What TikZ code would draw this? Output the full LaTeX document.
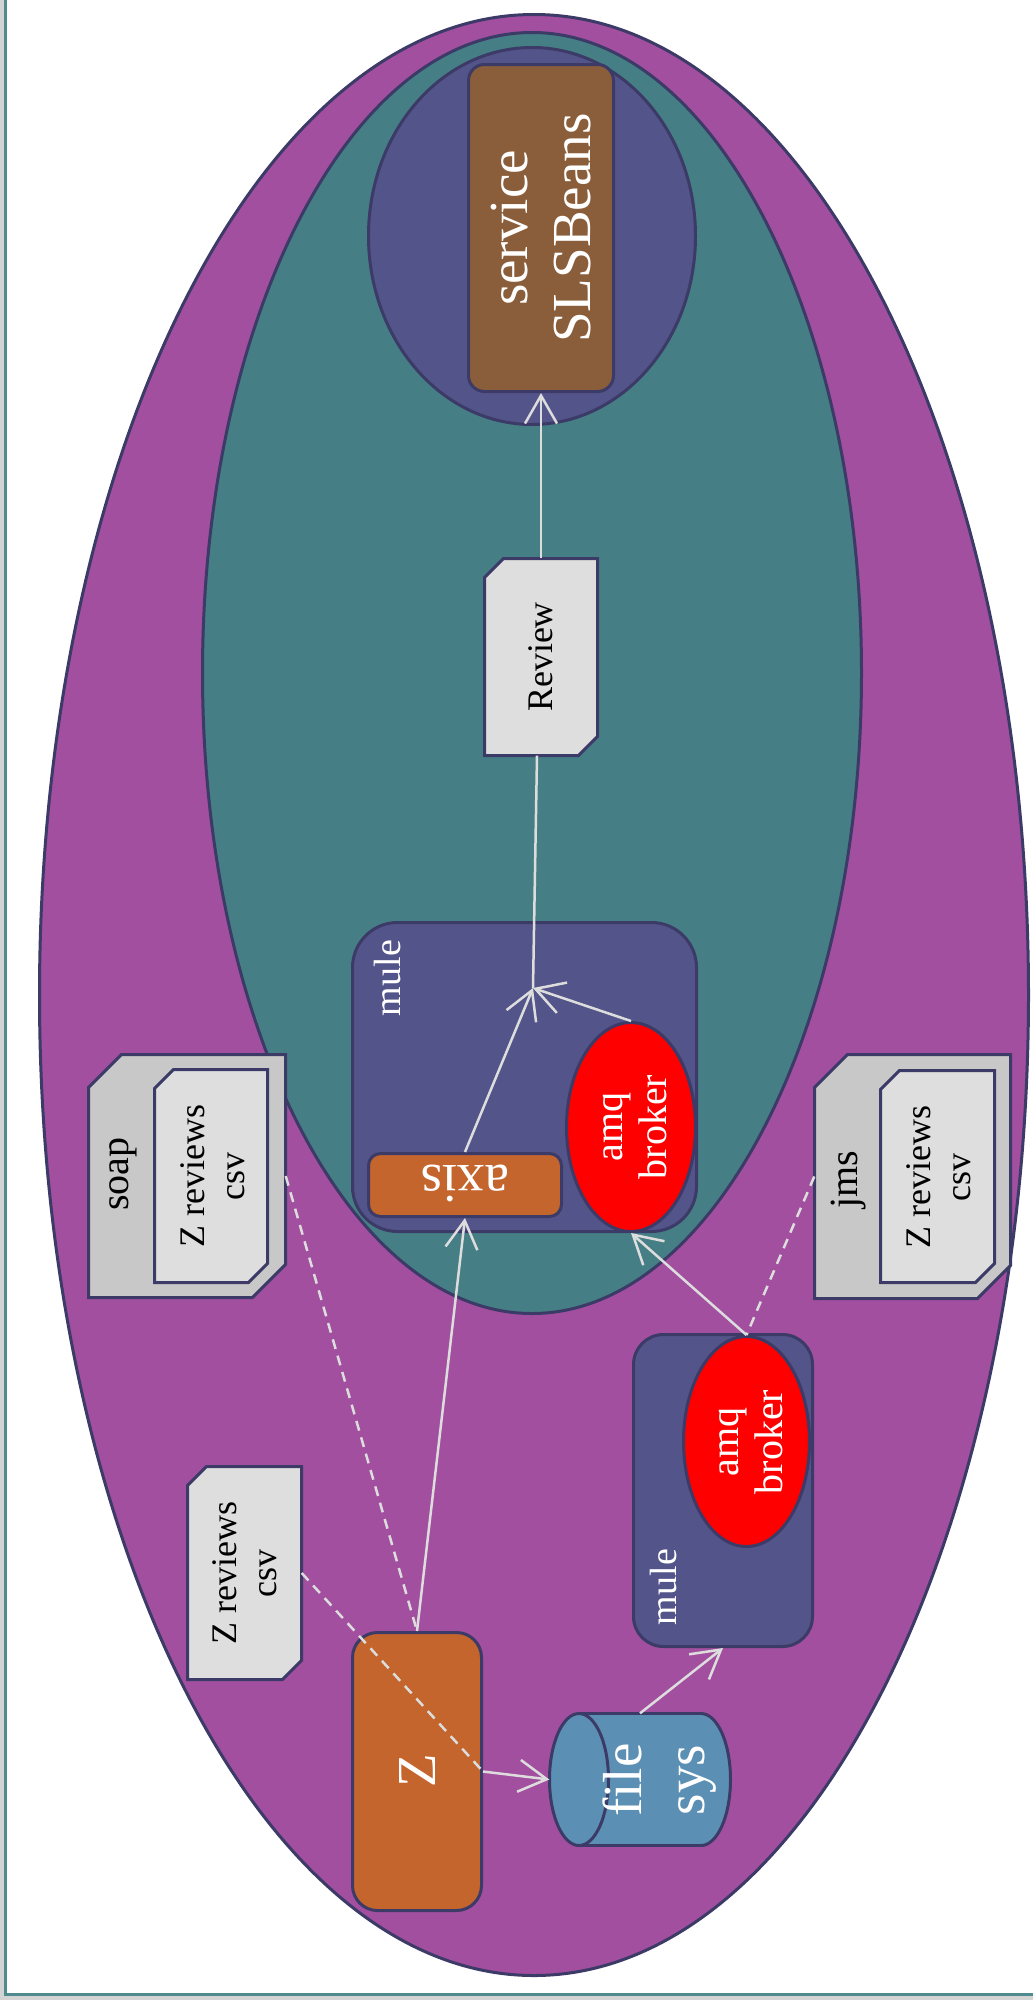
\documentclass[tikz,border=0pt]{standalone}
\usepackage{fontspec}
\setmainfont{Liberation Serif}
\usetikzlibrary{shapes.geometric, arrows.meta, fit}

\definecolor{outerpurple}{HTML}{A24FA0}
\definecolor{tealfill}{HTML}{457F85}
\definecolor{slate}{HTML}{535489}
\definecolor{brownbox}{HTML}{8B5E3B}
\definecolor{orangebox}{HTML}{C4652D}
\definecolor{fsblue}{HTML}{5B8FB4}
\definecolor{notelight}{HTML}{DEDEDE}
\definecolor{notegray}{HTML}{C8C8C8}
\definecolor{border}{HTML}{3C3A66}
\definecolor{wire}{HTML}{DDDDDD}
\definecolor{frameteal}{HTML}{4E8A8E}
\definecolor{framegray}{HTML}{D3D3D3}

% note shape with two chamfered corners (top left, bottom right), plus a
% named invisible node covering it for connector anchors
\newcommand\notebox[7]{%
  \draw[outline, fill=#7] (#2,#3+#6) -- (#2+#6,#3) -- (#4,#3) -- (#4,#5-#6)
    -- (#4-#6,#5) -- (#2,#5) -- cycle;
  \node[fit={(#2,#3) (#4,#5)}, inner sep=0pt] (#1) {};
}

\begin{document}
\begin{tikzpicture}[x=1pt, y=-1pt,
  outline/.style={draw=border, line width=3pt},
  boxfit/.style={outline, inner sep=0pt},
  oval/.style={ellipse, outline, inner sep=0pt},
  lbl/.style={align=center, inner sep=0pt, rotate=90},
  bigtxt/.style={font=\fontsize{55}{63}\selectfont},
  midtxt/.style={font=\fontsize{40}{44}\selectfont},
  smalltxt/.style={font=\fontsize{36}{40}\selectfont},
  flow/.style={draw=wire, line width=2.5pt, -{Straight Barb[length=28pt, width=32pt]}},
  plainwire/.style={draw=wire, line width=2.5pt},
  dashwire/.style={draw=wire, line width=2.5pt, dash pattern=on 10pt off 7pt}]

\useasboundingbox (0,0) rectangle (1033,2000);
\fill[white] (0,0) rectangle (1033,2000);

% page edge
\fill[framegray] (0,0) rectangle (3.5,2000);
\fill[framegray] (0,1996) rectangle (1033,2000);
\draw[frameteal, line width=3pt] (5,0) -- (5,1994) -- (1033,1994);

% nested regions
\node[oval, fill=outerpurple, minimum width=989pt, minimum height=1961pt] (outer) at (534,995) {};
\node[oval, fill=tealfill, minimum width=659pt, minimum height=1281pt] (inner) at (532,673) {};
\node[oval, fill=slate, minimum width=327pt, minimum height=377pt] (svcring) at (532,236) {};

% service
\node[boxfit, fill=brownbox, rounded corners=16pt, fit={(468.5,64.5) (613.5,391.5)}] (service) {};
\node[lbl, bigtxt, text=white] at (541,228) {service\\SLSBeans};

% Review
\notebox{review}{484.5}{558.5}{597.5}{755.5}{19}{notelight}
\node[lbl, smalltxt, text=black] at (541,657) {Review};

% upper mule
\node[boxfit, fill=slate, rounded corners=45pt, fit={(352.5,922.5) (696.5,1231.5)}] (mulea) {};
\node[lbl, font=\fontsize{38}{42}\selectfont, text=white] at (387,978) {mule};
\node[boxfit, fill=orangebox, rounded corners=12pt, fit={(368.5,1153.5) (561.5,1216.5)}] (axis) {};
\node[align=center, inner sep=0pt, rotate=180, bigtxt, text=white] at (465,1183) {axis};
\node[oval, fill=red, minimum width=129pt, minimum height=209pt] (amqa) at (631,1127) {};
\node[lbl, midtxt, text=white] at (635,1127) {amq\\broker};

% soap
\notebox{soap}{88.5}{1054.5}{285.5}{1297.5}{33}{notegray}
\node[lbl, midtxt, text=black] at (123,1174) {soap};
\notebox{soapin}{154.5}{1069.5}{267.5}{1282.5}{19}{notelight}
\node[lbl, smalltxt, text=black] at (213,1176) {Z reviews\\csv};

% jms
\notebox{jms}{814.5}{1054.5}{1010.5}{1298.5}{33}{notegray}
\node[lbl, midtxt, text=black] at (849,1180) {jms};
\notebox{jmsin}{880.5}{1070.5}{994.5}{1282.5}{19}{notelight}
\node[lbl, smalltxt, text=black] at (939,1177) {Z reviews\\csv};

% loose csv
\notebox{zr}{187.5}{1466.5}{301.5}{1679.5}{19}{notelight}
\node[lbl, smalltxt, text=black] at (245,1573) {Z reviews\\csv};

% Z
\node[boxfit, fill=orangebox, rounded corners=25pt, fit={(352.5,1632.5) (481.5,1910.5)}] (z) {};
\node[lbl, bigtxt, text=white] at (417,1771) {Z};

% file sys cylinder
\begin{scope}
  \clip (701,1700) rectangle (740,1860);
  \draw[outline, fill=fsblue] (701,1779.5) ellipse[x radius=29.5, y radius=66];
\end{scope}
\fill[fsblue] (579,1713.5) rectangle (701,1845.5);
\draw[outline] (579,1713.5) -- (701,1713.5);
\draw[outline] (579,1845.5) -- (701,1845.5);
\draw[outline, fill=fsblue] (579,1779.5) ellipse[x radius=29.5, y radius=66];
\node[fit={(549.5,1713.5) (730.5,1845.5)}, inner sep=0pt] (fs) {};
\node[lbl, bigtxt, text=white] at (660,1780) {file\\sys};

% lower mule
\node[boxfit, fill=slate, rounded corners=30pt, fit={(633.5,1334.5) (812.5,1646.5)}] (muleb) {};
\node[lbl, font=\fontsize{38}{42}\selectfont, text=white] at (663,1587) {mule};
\node[oval, fill=red, minimum width=126pt, minimum height=210pt] (amqb) at (746.5,1441.5) {};
\node[lbl, midtxt, text=white] at (751,1442) {amq\\broker};

% connectors
\coordinate (join) at (533,988);
\draw[flow] (review.north) -- (service.south);
\draw[plainwire] ([xshift=-4pt]review.south) -- (join);
\draw[flow] (axis.north) -- (join);
\draw[flow] (amqa.north) -- (join);
\draw[flow] (z.north) -- (axis.south);
\draw[flow] (amqb.north) -- (amqa.south);
\draw[flow] (fs.north) -- (muleb.south);
\draw[flow] (z.east) -- (fs.west);
\draw[dashwire] (soap.east) -- (z.north);
\draw[dashwire] (zr.east) -- (z.east);
\draw[dashwire] (jms.west) -- (amqb.north);

\end{tikzpicture}
\end{document}
